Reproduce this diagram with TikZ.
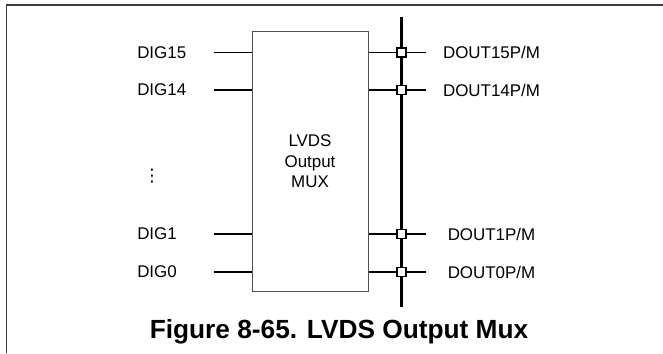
\documentclass[tikz,border=0pt]{standalone}
\usepackage{fontspec}
\setmainfont{Liberation Sans}
\newfontfamily\symfont{DejaVu Sans}
\usepackage{xcolor}
\definecolor{framegray}{RGB}{60,60,60}
\definecolor{boxgray}{RGB}{80,80,80}
\usepackage{tikz}
\usetikzlibrary{positioning,calc}
\tikzset{
  muxbox/.style={rectangle,draw=boxgray,line width=0.75pt,fill=white,align=center,
    font=\fontsize{12.7}{15.4}\selectfont,minimum width=87pt,minimum height=194.25pt,inner sep=0pt},
  inlbl/.style={anchor=west,inner sep=0pt,font=\fontsize{12.7}{15}\selectfont},
  outlbl/.style={anchor=center,inner sep=0pt,font=\fontsize{12.7}{15}\selectfont},
  fl/.style={draw=black,line width=1pt},
  busline/.style={draw=black,line width=2.2pt},
  tapbox/.style={rectangle,draw=black,fill=white,line width=0.9pt,minimum size=6.8pt,inner sep=0pt},
  capt/.style={inner sep=0pt,font=\fontsize{19.7}{22}\selectfont\bfseries},
}
\begin{document}
\begin{tikzpicture}[x=0.75pt,y=-0.75pt]
  \useasboundingbox (0,0) rectangle (663,353);
  % figure frame (cut off at right and bottom)
  \draw[framegray,line width=0.8pt] (6.5,353) |- (663,5);
  % mux block
  \node[muxbox] (mux) at (310,161.5) {LVDS\\Output\\MUX};
  % output bus
  \coordinate (bustop) at (401.5,17);
  \coordinate (busbot) at (401.5,307);
  % rows
  \foreach \n/\y in {15/52.5,14/90,1/234,0/272}{
    \coordinate (in\n) at (214,\y);
    \coordinate (out\n) at (426,\y);
    \node[inlbl] (dig\n) at (137,\y) {DIG\n};
    \node[outlbl] (dout\n) at (491.5,\y) {DOUT\n P/M};
    \draw[fl] (in\n) -- (mux.west |- in\n);
    \draw[fl] (mux.east |- out\n) -- (out\n);
  }
  \draw[busline] (bustop) -- (busbot);
  \foreach \n/\y in {15/52.5,14/90,1/234,0/272}{
    \node[tapbox] (tap\n) at (bustop |- out\n) {};
  }
  \node[inner sep=0pt,font=\symfont\fontsize{13}{15}\selectfont] (dots) at (152,176) {⋮};
  % caption
  \node[capt] (title) at (339,332) {Figure 8-65. LVDS Output Mux};
\end{tikzpicture}
\end{document}
